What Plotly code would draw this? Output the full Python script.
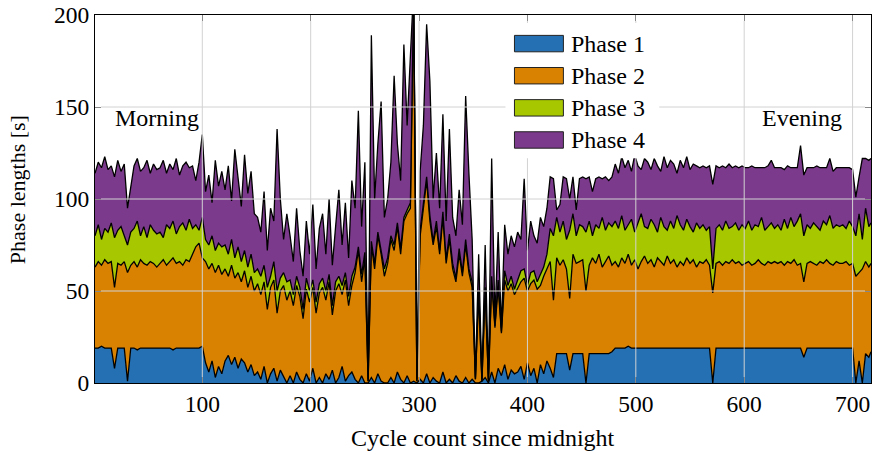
import plotly.graph_objects as go

# Cycle index (sampled every third cycle, plus the last cycle of the day)
cycles = list(range(1, 716, 3)) + [717]

# Phase lengths in seconds per sampled cycle
phase1 = [
    19, 19, 20, 19, 19, 19, 8, 19, 19, 19,
    1, 19, 19, 18, 19, 19, 19, 19, 19, 19,
    19, 19, 19, 19, 18, 19, 19, 19, 19, 19,
    19, 19, 19, 20, 11, 6, 12, 3, 9, 5,
    12, 15, 10, 14, 8, 13, 11, 6, 10, 4,
    6, 2, 9, 0, 5, 8, 1, 7, 3, 0,
    4, 0, 6, 2, 0, 5, 1, 8, 0, 3,
    0, 5, 2, 7, 0, 3, 9, 1, 4, 6,
    2, 0, 4, 0, 0, 3, 0, 5, 1, 0,
    0, 3, 0, 6, 2, 0, 4, 0, 1, 0,
    2, 0, 5, 0, 3, 1, 0, 6, 0, 2,
    0, 4, 1, 0, 3, 0, 2, 0, 0, 1,
    3, 0, 6, 0, 8, 4, 10, 2, 7, 5,
    6, 9, 2, 11, 4, 8, 0, 10, 5, 12,
    8, 3, 16, 16, 16, 16, 7, 16, 16, 16,
    16, 0, 16, 16, 16, 16, 16, 16, 16, 17,
    19, 19, 19, 19, 20, 19, 19, 19, 19, 19,
    19, 19, 19, 19, 19, 19, 19, 19, 19, 19,
    19, 19, 19, 19, 19, 19, 19, 19, 19, 19,
    0, 19, 19, 19, 19, 19, 19, 19, 19, 19,
    19, 19, 19, 19, 19, 19, 19, 19, 19, 19,
    19, 19, 19, 19, 19, 19, 19, 19, 14, 19,
    19, 19, 19, 19, 19, 19, 19, 19, 19, 19,
    19, 19, 19, 19, 0, 12, 0, 16, 14, 17,
]
phase2 = [
    44, 47, 44, 48, 46, 47, 44, 46, 45, 47,
    59, 45, 47, 45, 48, 46, 45, 47, 46, 44,
    46, 48, 45, 47, 50, 46, 47, 45, 48, 47,
    51, 55, 57, 48, 55, 56, 53, 57, 55, 54,
    50, 43, 54, 43, 52, 42, 50, 46, 48, 46,
    48, 46, 46, 40, 47, 48, 37, 43, 50, 45,
    46, 42, 47, 45, 35, 46, 43, 44, 38, 46,
    52, 40, 53, 30, 50, 51, 39, 55, 38, 47,
    58, 72, 51, 68, 1, 72, 62, 75, 69, 58,
    65, 75, 72, 79, 68, 88, 88, 95, 209, 1,
    78, 95, 105, 88, 72, 84, 70, 84, 65, 76,
    62, 51, 69, 58, 72, 60, 50, 2, 48, 0,
    47, 1, 49, 30, 44, 23, 46, 48, 47, 43,
    46, 46, 55, 39, 50, 48, 51, 43, 53, 50,
    58, 42, 52, 48, 51, 46, 39, 54, 49, 50,
    51, 50, 48, 52, 49, 54, 47, 50, 53, 47,
    47, 44, 49, 46, 50, 45, 48, 43, 47, 50,
    46, 48, 44, 49, 47, 45, 50, 46, 48, 44,
    47, 45, 49, 46, 48, 44, 47, 46, 48, 45,
    49, 46, 47, 45, 47, 46, 48, 46, 47, 45,
    46, 47, 45, 46, 48, 46, 45, 47, 46, 47,
    46, 47, 45, 47, 46, 48, 45, 46, 41, 46,
    47, 46, 45, 47, 46, 48, 46, 45, 47, 46,
    46, 47, 45, 46, 58, 48, 62, 50, 49, 48,
]
phase3 = [
    17, 20, 14, 17, 17, 21, 27, 18, 21, 14,
    15, 18, 18, 25, 13, 20, 15, 20, 18, 18,
    17, 12, 22, 18, 20, 16, 19, 23, 16, 23,
    14, 12, 7, 22, 12, 13, 15, 12, 12, 15,
    13, 12, 14, 11, 14, 11, 11, 11, 12, 10,
    8, 10, 9, 12, 6, 10, 12, 7, 7, 10,
    6, 6, 5, 5, 5, 6, 6, 4, 6, 5,
    5, 5, 4, 5, 5, 4, 5, 4, 5, 5,
    3, 2, 4, 3, 0, 2, 3, 2, 3, 4,
    3, 2, 3, 2, 3, 2, 2, 3, 2, 0,
    3, 2, 2, 3, 2, 3, 2, 3, 2, 3,
    3, 2, 3, 2, 3, 2, 3, 0, 2, 0,
    2, 0, 3, 1, 4, 1, 5, 3, 4, 3,
    4, 6, 5, 3, 6, 5, 4, 6, 5, 8,
    18, 35, 22, 18, 21, 16, 37, 22, 15, 20,
    18, 32, 24, 12, 21, 14, 27, 17, 18, 21,
    22, 21, 23, 18, 16, 25, 15, 25, 26, 16,
    19, 22, 23, 14, 24, 21, 14, 23, 17, 28,
    20, 19, 21, 20, 15, 24, 18, 21, 16, 21,
    13, 19, 20, 19, 22, 19, 18, 22, 17, 22,
    19, 22, 19, 21, 18, 25, 19, 19, 22, 18,
    21, 17, 25, 18, 25, 18, 24, 27, 25, 21,
    18, 22, 21, 17, 23, 19, 26, 20, 20, 20,
    21, 18, 24, 20, 22, 32, 16, 29, 22, 22,
]
phase4 = [
    34, 34, 39, 39, 34, 31, 33, 38, 30, 39,
    20, 26, 34, 34, 35, 32, 42, 28, 36, 35,
    35, 42, 28, 35, 28, 41, 28, 31, 37, 28,
    34, 24, 37, 45, 26, 38, 18, 49, 31, 41,
    30, 48, 21, 59, 36, 30, 52, 40, 45, 32,
    28, 24, 40, 20, 37, 22, 88, 43, 18, 37,
    24, 18, 37, 20, 18, 31, 20, 41, 18, 30,
    35, 20, 41, 22, 30, 47, 22, 38, 21, 52,
    32, 74, 26, 49, 1, 112, 35, 48, 80, 28,
    32, 40, 92, 43, 37, 94, 46, 77, 3, 1,
    32, 43, 83, 73, 23, 37, 23, 53, 21, 57,
    25, 23, 32, 26, 78, 52, 23, 1, 20, 1,
    23, 1, 64, 4, 26, 2, 25, 17, 22, 23,
    26, 17, 49, 19, 28, 19, 21, 31, 22, 25,
    28, 31, 4, 15, 24, 33, 17, 20, 14, 25,
    27, 29, 24, 24, 25, 28, 21, 29, 23, 27,
    31, 30, 32, 34, 35, 26, 42, 31, 24, 37,
    36, 27, 36, 36, 25, 38, 34, 33, 35, 23,
    35, 34, 34, 31, 37, 31, 33, 32, 34, 33,
    46, 34, 31, 35, 29, 35, 32, 31, 34, 32,
    33, 29, 35, 31, 32, 27, 34, 33, 34, 33,
    31, 34, 27, 34, 27, 32, 29, 37, 33, 31,
    33, 30, 33, 34, 29, 31, 31, 31, 31, 32,
    31, 33, 29, 31, 21, 20, 44, 27, 36, 35,
]

phase_names = ["Phase 1", "Phase 2", "Phase 3", "Phase 4"]
phase_colors = ["#2470b3", "#d98100", "#a7c800", "#7b3a8b"]
x_ticks = [100, 200, 300, 400, 500, 600, 700]
y_ticks = [0, 50, 100, 150, 200]

W, H = 874, 455
M = dict(l=95, r=2, t=13, b=72)
PW = W - M["l"] - M["r"]
PH = H - M["t"] - M["b"]
FONT = "Liberation Serif, Times New Roman, serif"


def px_x(p):
    return (p - M["l"]) / PW


def px_y(p):
    return (H - M["b"] - p) / PH


def txt(size):
    return dict(family=FONT, size=size, color="black")


fig = go.Figure()
for name, vals, col in zip(phase_names, [phase1, phase2, phase3, phase4], phase_colors):
    fig.add_trace(go.Scatter(
        x=cycles, y=vals, name=name, mode="lines", stackgroup="phases",
        line=dict(color="black", width=1.3), fillcolor=col, showlegend=False,
    ))

shapes = []
tick_len = 6
# grid drawn on top of the filled areas
for v in x_ticks:
    shapes.append(dict(type="line", xref="x", yref="paper", x0=v, x1=v,
                       y0=tick_len / PH, y1=1 - tick_len / PH,
                       line=dict(color="#d2d2d2", width=1), layer="above"))
for v in y_ticks[1:-1]:
    shapes.append(dict(type="line", xref="paper", yref="y", x0=tick_len / PW, x1=1 - tick_len / PW,
                       y0=v, y1=v, line=dict(color="#d2d2d2", width=1), layer="above"))

# legend box
shapes.append(dict(type="rect", xref="paper", yref="paper",
                   x0=px_x(506), x1=px_x(660), y0=px_y(157), y1=px_y(21),
                   fillcolor="white", line=dict(width=0), layer="above"))
annotations = []
for i, (name, col) in enumerate(zip(phase_names, phase_colors)):
    top = 33.5 + 32.3 * i
    shapes.append(dict(type="rect", xref="paper", yref="paper",
                       x0=px_x(515), x1=px_x(564), y0=px_y(top + 16.5), y1=px_y(top),
                       fillcolor=col, line=dict(color="#222222", width=1), layer="above"))
    annotations.append(dict(text=name, xref="paper", yref="paper", x=px_x(570), y=px_y(top + 8.5),
                            xanchor="left", yanchor="middle", showarrow=False, font=txt(24)))

annotations.append(dict(text="Morning", x=58, y=144, xref="x", yref="y", showarrow=False, font=txt(24)))
annotations.append(dict(text="Evening", x=653, y=144, xref="x", yref="y", showarrow=False, font=txt(24)))

# axis titles
annotations.append(dict(text="Cycle count since midnight", xref="paper", yref="paper",
                        x=px_x(483), y=px_y(438), xanchor="center", yanchor="middle",
                        showarrow=False, font=txt(24)))
annotations.append(dict(text="Phase lengths [s]", xref="paper", yref="paper",
                        x=px_x(17), y=px_y(189), xanchor="center", yanchor="middle",
                        textangle=-90, showarrow=False, font=txt(22)))

axis_common = dict(
    showgrid=False, zeroline=False, showline=True, linecolor="black", linewidth=1,
    mirror="ticks", ticks="inside", ticklen=tick_len, tickcolor="#888888", tickwidth=1,
    tickfont=txt(23.5),
)

fig.update_layout(
    width=W, height=H, autosize=False, margin=M,
    paper_bgcolor="white", plot_bgcolor="white",
    font=txt(23.5),
    showlegend=False, shapes=shapes, annotations=annotations,
    xaxis=dict(range=[1, 717], tickvals=x_ticks, **axis_common),
    yaxis=dict(range=[0, 200], tickvals=y_ticks, **axis_common),
)

fig.write_html("out.html")
